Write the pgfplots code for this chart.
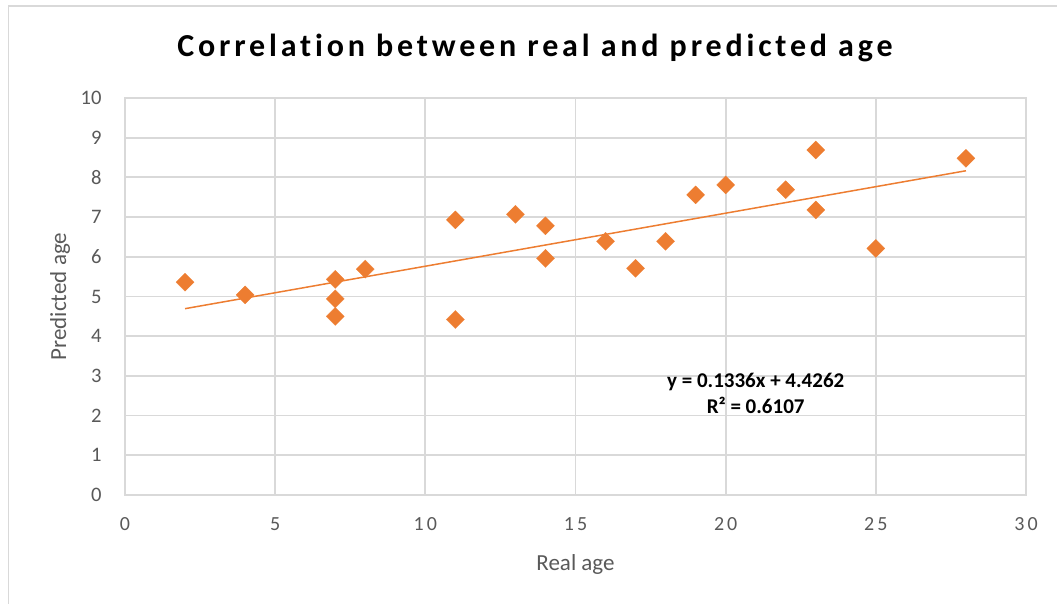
\documentclass[border=0pt]{standalone}
\usepackage{pgfplots}
\pgfplotsset{compat=1.18}
\usepackage{fontspec}
\setmainfont{Carlito}
\newfontfamily\xtickfont[LetterSpace=15]{Carlito}
\newfontfamily\titlefont[LetterSpace=12, Ligatures={NoCommon,NoRequired,NoContextual}]{Carlito}
\definecolor{ticktext}{HTML}{595959}
\definecolor{gridc}{HTML}{D9D9D9}
\definecolor{orng}{HTML}{ED7D31}
\begin{document}
\begin{tikzpicture}
\path[use as bounding box] (0pt,0pt) rectangle (528.5pt,302pt);
\draw[gridc, line width=0.75pt] (4.25pt,0pt) -- (4.25pt,299pt) -- (528.5pt,299pt);
\begin{axis}[
  at={(62.5pt,54.5pt)}, anchor=south west,
  scale only axis, width=450.5pt, height=198.5pt,
  xmin=0, xmax=30, ymin=0, ymax=10,
  xtick={0,5,...,30}, ytick={0,1,...,10},
  major tick length=0pt,
  grid=major,
  grid style={gridc, line width=0.9pt},
  axis line style={gridc, line width=0.9pt},
  /pgf/number format/assume math mode=true,
  xticklabel style={font=\xtickfont\fontsize{10}{12}\selectfont, text=ticktext, anchor=north, inner sep=0pt, yshift=-11pt},
  yticklabel style={font=\fontsize{10.3}{12}\selectfont, text=ticktext, anchor=east, inner sep=0pt, xshift=-11.5pt},
  xlabel={Real age}, ylabel={Predicted age},
  xlabel style={font=\fontsize{11.5}{13}\selectfont, text=ticktext, at={(axis description cs:0.5,-0.1763)}, anchor=center},
  ylabel style={font=\fontsize{11.5}{13}\selectfont, text=ticktext, at={(axis description cs:-0.0721,0.5)}, anchor=center},
  clip=false,
]
\addplot[orng, only marks, mark=square*, mark size=3.2pt, mark options={rotate=45, fill=orng, draw=orng, line width=0.1pt}] coordinates {
(2,5.36) (4,5.04) (7,5.43) (7,4.94) (7,4.50) (8,5.69) (11,6.93) (11,4.42)
(13,7.07) (14,6.78) (14,5.96) (16,6.39) (17,5.71) (18,6.39) (19,7.56)
(20,7.81) (22,7.69) (23,8.69) (23,7.18) (25,6.21) (28,8.48)
};
\addplot[orng, line width=0.75pt, no marks] coordinates {(2,4.6934) (28,8.1670)};
\node[font=\bfseries\fontsize{10.5}{13}\selectfont, align=center, anchor=center] at (axis cs:21,2.55) {y = 0.1336x + 4.4262\\R² = 0.6107};
\end{axis}
\node[font=\titlefont\bfseries\fontsize{16}{19}\selectfont, anchor=base] at (267.5pt,273.5pt) {Correlation between real and predicted age};
\end{tikzpicture}
\end{document}
